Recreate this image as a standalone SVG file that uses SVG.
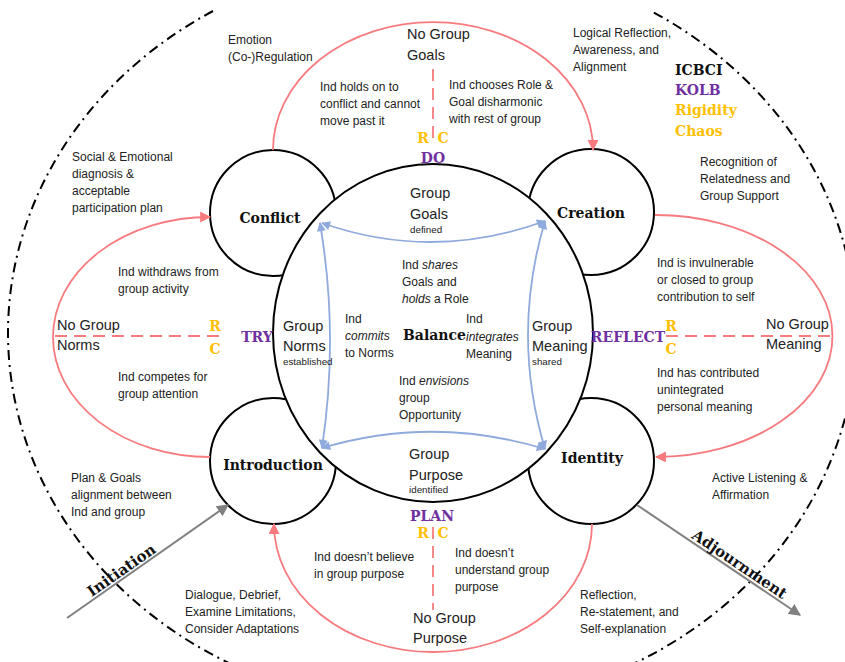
<svg xmlns="http://www.w3.org/2000/svg" width="845" height="662" viewBox="0 0 845 662">
  <style>
    .t { font-family: "Liberation Sans", Arial, sans-serif; font-size: 12px; fill: #222; }
    .m { font-family: "Liberation Sans", Arial, sans-serif; font-size: 14.5px; fill: #222; }
    .s { font-family: "Liberation Sans", Arial, sans-serif; font-size: 9.8px; fill: #222; }
    .b { font-family: "DejaVu Serif", "Liberation Serif", serif; font-weight: bold; font-size: 14px; fill: #111; }
    .rc { font-family: "DejaVu Serif", "Liberation Serif", serif; font-weight: bold; font-size: 14px; fill: #FFC000; }
    .k { font-family: "DejaVu Serif", "Liberation Serif", serif; font-weight: bold; font-size: 14px; fill: #7030A0; }
    .node { fill: #fff; stroke: #000; stroke-width: 2; }
    .pink { fill: none; stroke: #F77B7E; stroke-width: 1.8; }
    .pdash { fill: none; stroke: #F77B7E; stroke-width: 1.8; stroke-dasharray: 12 7; }
    .blue { fill: none; stroke: #8FAADC; stroke-width: 1.8; }
    .gray { fill: none; stroke: #808080; stroke-width: 2; }
    .outer { fill: none; stroke: #000; stroke-width: 2; stroke-dasharray: 10 5 2 5; }
  </style>
  <defs>
    <marker id="pinkHead" viewBox="0 0 10 10" refX="9" refY="5" markerWidth="11" markerHeight="11" markerUnits="userSpaceOnUse" orient="auto">
      <path d="M0,0 L10,5 L0,10 z" fill="#F77B7E"/>
    </marker>
    <marker id="blueHead" viewBox="0 0 10 10" refX="9" refY="5" markerWidth="10" markerHeight="9" markerUnits="userSpaceOnUse" orient="auto-start-reverse">
      <path d="M0,0 L10,5 L0,10 z" fill="#8FAADC"/>
    </marker>
    <marker id="grayHead" viewBox="0 0 10 10" refX="9" refY="5" markerWidth="13" markerHeight="12" markerUnits="userSpaceOnUse" orient="auto">
      <path d="M0,0 L10,5 L0,10 z" fill="#808080"/>
    </marker>
  </defs>

  <!-- outer dash-dot boundary -->
  <path class="outer" d="M 213 11 A 424 376 0 1 0 651 11"/>

  <!-- corner stage nodes -->
  <g id="conflict">
    <circle class="node" cx="273" cy="213" r="63"/>
    <text class="b" x="270" y="223" text-anchor="middle">Conflict</text>
  </g>
  <g id="creation">
    <circle class="node" cx="591" cy="212" r="63"/>
    <text class="b" x="591" y="218" text-anchor="middle">Creation</text>
  </g>
  <g id="introduction">
    <circle class="node" cx="273" cy="461" r="63"/>
    <text class="b" x="273" y="470" text-anchor="middle">Introduction</text>
  </g>
  <g id="identity">
    <circle class="node" cx="591" cy="461" r="63"/>
    <text class="b" x="592" y="463" text-anchor="middle">Identity</text>
  </g>

  <!-- central node -->
  <g id="balance">
    <ellipse class="node" cx="433" cy="333" rx="160" ry="169"/>
    <text class="b" x="403" y="340">Balance</text>
  </g>

  <g id="connectors">
    <!-- pink cycle arcs -->
    <path class="pink" d="M 273 150 A 160 128 0 0 1 593 150" marker-end="url(#pinkHead)"/>
    <path class="pink" d="M 655 215 A 177 121 0 0 1 656 457" marker-end="url(#pinkHead)"/>
    <path class="pink" d="M 592 524 A 159 128 0 0 1 274 524" marker-end="url(#pinkHead)"/>
    <path class="pink" d="M 210 457 A 157 120 0 0 1 210 217" marker-end="url(#pinkHead)"/>
    <!-- pink dashed dividers -->
    <line class="pdash" x1="433" y1="69" x2="433" y2="145"/>
    <line class="pdash" x1="433" y1="527" x2="433" y2="610"/>
    <line class="pdash" x1="55" y1="336" x2="222" y2="336"/>
    <line class="pdash" x1="666" y1="336" x2="832" y2="336"/>
    <!-- blue inner arcs -->
    <path class="blue" d="M 322 223 Q 433 262 545 221" marker-start="url(#blueHead)" marker-end="url(#blueHead)"/>
    <path class="blue" d="M 322 448 Q 433 415 545 449" marker-start="url(#blueHead)" marker-end="url(#blueHead)"/>
    <path class="blue" d="M 320 223 Q 339 335 322 448" marker-start="url(#blueHead)" marker-end="url(#blueHead)"/>
    <path class="blue" d="M 545 221 Q 511 335 545 449" marker-start="url(#blueHead)" marker-end="url(#blueHead)"/>
    <!-- entry and exit arrows -->
    <line class="gray" x1="67" y1="618" x2="228" y2="505" marker-end="url(#grayHead)"/>
    <line class="gray" x1="637" y1="505" x2="800" y2="615" marker-end="url(#grayHead)"/>
  </g>

  <!-- arrow labels -->
  <g transform="translate(126,577) rotate(-35)">
    <text class="b" x="0" y="-3" text-anchor="middle" style="font-size:15px">Initiation</text>
  </g>
  <g transform="translate(735,571) rotate(34)">
    <text class="b" x="0" y="-3" text-anchor="middle" style="font-size:15px">Adjournment</text>
  </g>

  <!-- legend -->
  <g id="legend">
    <text class="b" x="675" y="75">ICBCI</text>
    <text class="k" x="675" y="95">KOLB</text>
    <text class="rc" x="675" y="115">Rigidity</text>
    <text class="rc" x="675" y="136">Chaos</text>
  </g>

  <!-- KOLB / R-C markers -->
  <text class="rc" x="423" y="143" text-anchor="middle">R</text>
  <text class="rc" x="443" y="143" text-anchor="middle">C</text>
  <text class="k" x="433" y="163" text-anchor="middle">DO</text>
  <text class="k" x="432" y="521" text-anchor="middle">PLAN</text>
  <text class="rc" x="423" y="538" text-anchor="middle">R</text>
  <text class="rc" x="443" y="538" text-anchor="middle">C</text>
  <text class="rc" x="215" y="331" text-anchor="middle">R</text>
  <text class="rc" x="215" y="354" text-anchor="middle">C</text>
  <text class="k" x="257" y="342" text-anchor="middle">TRY</text>
  <text class="rc" x="671" y="331" text-anchor="middle">R</text>
  <text class="rc" x="671" y="354" text-anchor="middle">C</text>
  <text class="k" x="628" y="342" text-anchor="middle">REFLECT</text>

  <!-- top region -->
  <text class="t" x="228" y="44">Emotion</text>
  <text class="t" x="228" y="61">(Co-)Regulation</text>
  <text class="m" x="407" y="39">No Group</text>
  <text class="m" x="407" y="60">Goals</text>
  <text class="t" x="320" y="91">Ind holds on to</text>
  <text class="t" x="320" y="108">conflict and cannot</text>
  <text class="t" x="320" y="125">move past it</text>
  <text class="t" x="449" y="89">Ind chooses Role &amp;</text>
  <text class="t" x="449" y="106">Goal disharmonic</text>
  <text class="t" x="449" y="123">with rest of group</text>
  <text class="t" x="573" y="37">Logical Reflection,</text>
  <text class="t" x="573" y="54">Awareness, and</text>
  <text class="t" x="573" y="71">Alignment</text>
  <text class="t" x="72" y="161">Social &amp; Emotional</text>
  <text class="t" x="72" y="178">diagnosis &amp;</text>
  <text class="t" x="72" y="195">acceptable</text>
  <text class="t" x="72" y="212">participation plan</text>
  <text class="t" x="700" y="166">Recognition of</text>
  <text class="t" x="700" y="183">Relatedness and</text>
  <text class="t" x="700" y="200">Group Support</text>

  <!-- left region -->
  <text class="t" x="118" y="276">Ind withdraws from</text>
  <text class="t" x="118" y="293">group activity</text>
  <text class="m" x="57" y="330">No Group</text>
  <text class="m" x="57" y="350">Norms</text>
  <text class="t" x="118" y="381">Ind competes for</text>
  <text class="t" x="118" y="398">group attention</text>

  <!-- right region -->
  <text class="t" x="657" y="267">Ind is invulnerable</text>
  <text class="t" x="657" y="284">or closed to group</text>
  <text class="t" x="657" y="301">contribution to self</text>
  <text class="m" x="766" y="329">No Group</text>
  <text class="m" x="766" y="349">Meaning</text>
  <text class="t" x="657" y="377">Ind has contributed</text>
  <text class="t" x="657" y="394">unintegrated</text>
  <text class="t" x="657" y="411">personal meaning</text>

  <!-- inside the central node -->
  <text class="m" x="410" y="198">Group</text>
  <text class="m" x="410" y="219">Goals</text>
  <text class="s" x="410" y="233">defined</text>
  <text class="t" x="402" y="269">Ind <tspan font-style="italic">shares</tspan></text>
  <text class="t" x="402" y="286">Goals and</text>
  <text class="t" x="402" y="303"><tspan font-style="italic">holds</tspan> a Role</text>
  <text class="m" x="283" y="331">Group</text>
  <text class="m" x="283" y="351">Norms</text>
  <text class="s" x="283" y="365">established</text>
  <text class="t" x="345" y="323">Ind</text>
  <text class="t" x="345" y="340" font-style="italic">commits</text>
  <text class="t" x="345" y="357">to Norms</text>
  <text class="t" x="466" y="323">Ind</text>
  <text class="t" x="466" y="341" font-style="italic">integrates</text>
  <text class="t" x="466" y="358">Meaning</text>
  <text class="m" x="532" y="331">Group</text>
  <text class="m" x="532" y="351">Meaning</text>
  <text class="s" x="532" y="365">shared</text>
  <text class="t" x="399" y="385">Ind <tspan font-style="italic">envisions</tspan></text>
  <text class="t" x="399" y="402">group</text>
  <text class="t" x="399" y="419">Opportunity</text>
  <text class="m" x="409" y="459">Group</text>
  <text class="m" x="409" y="480">Purpose</text>
  <text class="s" x="409" y="493">identified</text>

  <!-- bottom region -->
  <text class="t" x="71" y="482">Plan &amp; Goals</text>
  <text class="t" x="71" y="499">alignment between</text>
  <text class="t" x="71" y="516">Ind and group</text>
  <text class="t" x="712" y="482">Active Listening &amp;</text>
  <text class="t" x="712" y="499">Affirmation</text>
  <text class="t" x="314" y="561">Ind doesn’t believe</text>
  <text class="t" x="314" y="578">in group purpose</text>
  <text class="t" x="455" y="557">Ind doesn’t</text>
  <text class="t" x="455" y="574">understand group</text>
  <text class="t" x="455" y="591">purpose</text>
  <text class="m" x="413" y="623">No Group</text>
  <text class="m" x="413" y="643">Purpose</text>
  <text class="t" x="185" y="599">Dialogue, Debrief,</text>
  <text class="t" x="185" y="616">Examine Limitations,</text>
  <text class="t" x="185" y="633">Consider Adaptations</text>
  <text class="t" x="580" y="599">Reflection,</text>
  <text class="t" x="580" y="616">Re-statement, and</text>
  <text class="t" x="580" y="633">Self-explanation</text>
</svg>
